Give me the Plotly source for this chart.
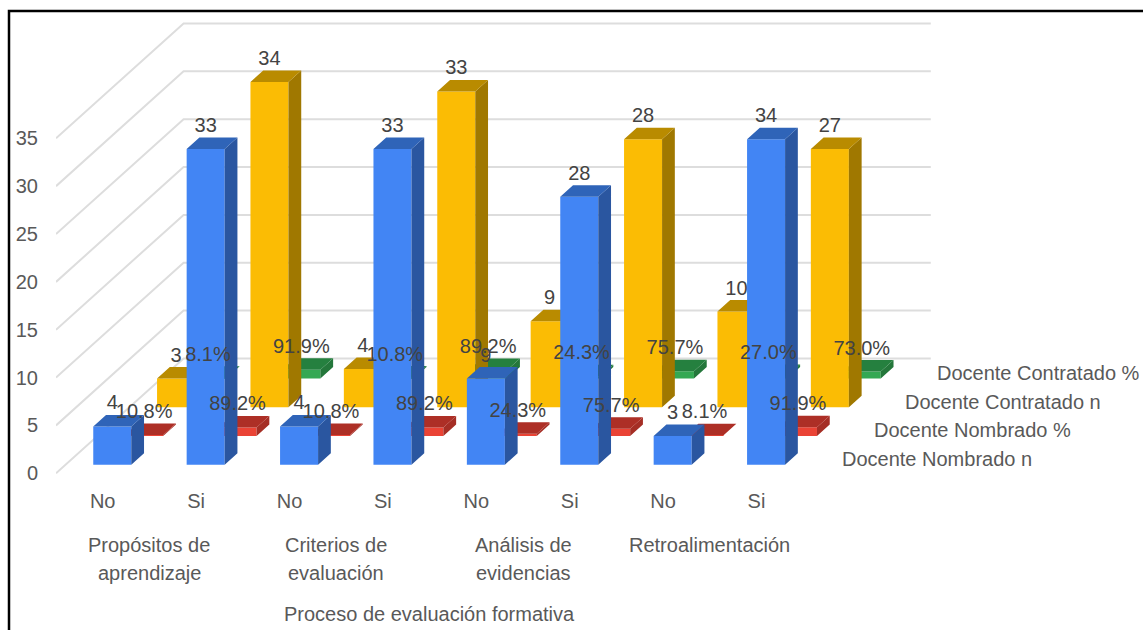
import plotly.graph_objects as go

# Data
groups = [["Propósitos de", "aprendizaje"], ["Criterios de", "evaluación"], ["Análisis de", "evidencias"], ["Retroalimentación"]]
answers = ["No", "Si", "No", "Si", "No", "Si", "No", "Si"]
nombrado_n = [4, 33, 4, 33, 9, 28, 3, 34]
nombrado_pct = [0.108, 0.892, 0.108, 0.892, 0.243, 0.757, 0.081, 0.919]
contratado_n = [3, 34, 4, 33, 9, 28, 10, 27]
contratado_pct = [0.081, 0.919, 0.108, 0.892, 0.243, 0.757, 0.270, 0.730]
series_names = ["Docente Nombrado n", "Docente Nombrado %", "Docente Contratado n", "Docente Contratado %"]
value_ticks = [0, 5, 10, 15, 20, 25, 30, 35]
axis_title = "Proceso de evaluación formativa"

# Series from front to back: values, front, top and side colours, label format
layers = [
    (nombrado_n, "#4285F4", "#2F64B8", "#2A56A0", "{:d}"),
    (nombrado_pct, "#EA4335", "#AD2F26", "#A52E25", "{:.1%}"),
    (contratado_n, "#FBBC04", "#B98B00", "#A07800", "{:d}"),
    (contratado_pct, "#34A853", "#25803F", "#24773B", "{:.1%}"),
]

# Oblique projection: one depth step moves right and up in axis units
DEPTH_X = 0.3415
DEPTH_Y = 3.0
BAR_WIDTH = 0.407
BAR_DEPTH = 0.4
LABEL_LIFT = 2.3

# Plot area in pixels
W, H = 1143, 630
LEFT, RIGHT, TOP, BOTTOM = 56, 1143, 12, 478
X_UNIT = 93.4
Y_UNIT = 9.57
Y_ZERO = 473.3


def px(x):
    return (x - LEFT) / (RIGHT - LEFT)


def py(y):
    return (BOTTOM - y) / (BOTTOM - TOP)


def project(c, d, v):
    return c + d * DEPTH_X, v + d * DEPTH_Y


fig = go.Figure()

# Side wall and back wall gridlines
gx, gy = [], []
for v in value_ticks:
    for c, d in [(0, 0), (0, 4), (8, 4)]:
        x, y = project(c, d, v)
        gx.append(x)
        gy.append(y)
    gx.append(None)
    gy.append(None)
fig.add_trace(go.Scatter(x=gx, y=gy, mode="lines", line=dict(color="#DDDDDD", width=2),
                         hoverinfo="skip", showlegend=False, zorder=0))

# Boxes are painted back to front
for i, (values, front, top, side, fmt) in reversed(list(enumerate(layers))):
    d0 = i + (1 - BAR_DEPTH) / 2
    d1 = d0 + BAR_DEPTH
    z = 4 - i
    centers = [k + 0.5 for k in range(len(values))]

    fig.add_trace(go.Bar(
        x=[project(c, d0, 0)[0] for c in centers],
        y=values,
        base=[d0 * DEPTH_Y] * len(values),
        width=BAR_WIDTH,
        marker=dict(color=front, line=dict(width=0)),
        name=series_names[i],
        showlegend=False,
        zorder=z,
    ))

    for color, kind in [(side, "side"), (top, "top")]:
        fx, fy = [], []
        for c, v in zip(centers, values):
            c0, c1 = c - BAR_WIDTH / 2, c + BAR_WIDTH / 2
            if kind == "side":
                corners = [(c1, d0, 0), (c1, d1, 0), (c1, d1, v), (c1, d0, v), (c1, d0, 0)]
            else:
                corners = [(c0, d0, v), (c1, d0, v), (c1, d1, v), (c0, d1, v), (c0, d0, v)]
            for corner in corners:
                x, y = project(*corner)
                fx.append(x)
                fy.append(y)
            fx.append(None)
            fy.append(None)
        fig.add_trace(go.Scatter(x=fx, y=fy, mode="lines", fill="toself", fillcolor=color,
                                 line=dict(width=0, color=color), hoverinfo="skip",
                                 showlegend=False, zorder=z))

# Value labels sit above the front edge of each box
for i, (values, front, top, side, fmt) in enumerate(layers):
    d0 = i + (1 - BAR_DEPTH) / 2
    points = [project(k + 0.5, d0, v) for k, v in enumerate(values)]
    fig.add_trace(go.Scatter(
        x=[p[0] for p in points],
        y=[p[1] + LABEL_LIFT for p in points],
        mode="text",
        text=[fmt.format(v) for v in values],
        textposition="middle center",
        textfont=dict(family="Liberation Sans", size=20, color="#434343"),
        hoverinfo="skip", showlegend=False, zorder=10,
    ))

annotations = []
label_font = dict(family="Liberation Sans", size=20, color="#595959")

# Group captions under the answer ticks, one annotation per line
for k, lines in enumerate(groups):
    for n, line in enumerate(lines):
        annotations.append(dict(x=2 * k + 1, y=py(545 + 28 * n), xref="x", yref="paper", text=line,
                                showarrow=False, xanchor="center", yanchor="middle", font=label_font))

annotations.append(dict(x=4, y=py(614), xref="x", yref="paper", text=axis_title, showarrow=False,
                        xanchor="center", yanchor="middle", font=label_font))

# Series names along the depth axis
for i, name in enumerate(series_names):
    x, y = project(8, i + 0.5, 0)
    annotations.append(dict(x=x + 0.22, y=y, xref="x", yref="y", text=name, showarrow=False,
                            xanchor="left", yanchor="middle", font=label_font))

fig.update_layout(
    width=W, height=H,
    margin=dict(l=LEFT, r=W - RIGHT, t=TOP, b=H - BOTTOM, autoexpand=False),
    paper_bgcolor="white",
    plot_bgcolor="white",
    showlegend=False,
    barmode="overlay",
    annotations=annotations,
    xaxis=dict(
        range=[0, (RIGHT - LEFT) / X_UNIT],
        tickmode="array", tickvals=[k + 0.5 for k in range(8)], ticktext=answers,
        showgrid=False, zeroline=False, showline=False, ticks="",
        tickfont=label_font, ticklabelstandoff=9,
    ),
    yaxis=dict(
        range=[(Y_ZERO - BOTTOM) / Y_UNIT, (Y_ZERO - TOP) / Y_UNIT],
        tickmode="array", tickvals=value_ticks,
        showgrid=False, zeroline=False, showline=False, ticks="",
        tickfont=label_font, ticklabelstandoff=17,
    ),
    shapes=[dict(
        type="path", xref="paper", yref="paper",
        path=f"M {px(9)} {py(632)} L {px(9)} {py(11)} L {px(1145)} {py(11)}",
        line=dict(color="#000000", width=2.5),
    )],
)

fig.write_html("out.html")
